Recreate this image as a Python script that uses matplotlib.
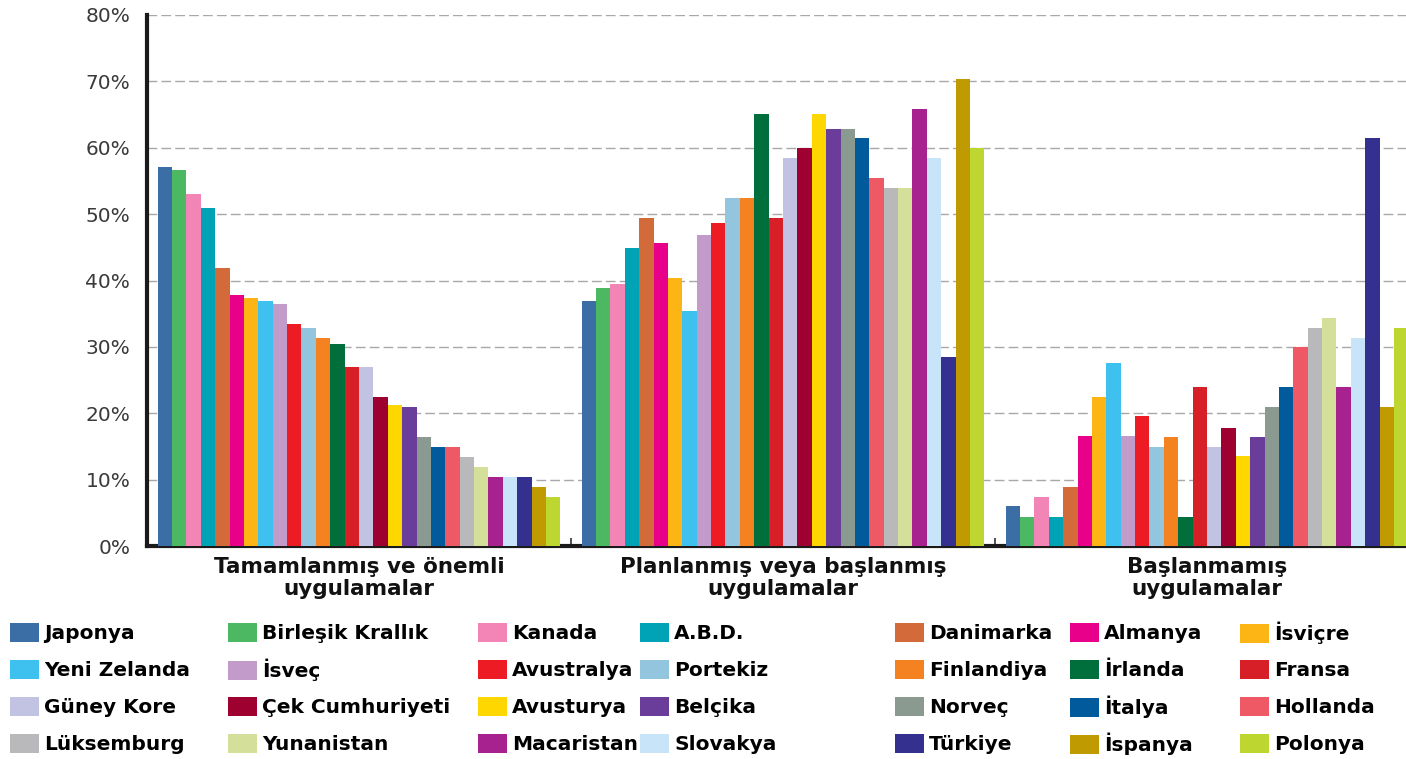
import numpy as np
import matplotlib
matplotlib.use('Agg')
import matplotlib.pyplot as plt
from matplotlib.patches import Patch

# ülkeler (çubuk sırası)
countries = ['Japonya', 'Birleşik Krallık', 'Kanada', 'A.B.D.', 'Danimarka', 'Almanya', 'İsviçre',
             'Yeni Zelanda', 'İsveç', 'Avustralya', 'Portekiz', 'Finlandiya', 'İrlanda', 'Fransa',
             'Güney Kore', 'Çek Cumhuriyeti', 'Avusturya', 'Belçika', 'Norveç', 'İtalya', 'Hollanda',
             'Lüksemburg', 'Yunanistan', 'Macaristan', 'Slovakya', 'Türkiye', 'İspanya', 'Polonya']

colors = ['#3b6ea5', '#4cb862', '#f285b5', '#00a3b5', '#d26a3a', '#e8008a', '#fdb515',
          '#3ec1ee', '#c39bcb', '#ed1c24', '#94c5de', '#f58220', '#006f3c', '#d71f27',
          '#c2c3e2', '#9e0030', '#ffd700', '#6a3d9a', '#8a9a90', '#005a9c', '#ef5966',
          '#b9b9bb', '#d4df9a', '#a8228f', '#c8e4f8', '#33308f', '#bf9a00', '#bed630']

groups = ['Tamamlanmış ve önemli\nuygulamalar',
          'Planlanmış veya başlanmış\nuygulamalar',
          'Başlanmamış\nuygulamalar']

tamamlanmis = [57.1, 56.6, 53.1, 50.9, 41.9, 37.8, 37.4, 36.9, 36.4, 33.4, 32.9, 31.4, 30.4, 26.9,
               26.9, 22.4, 21.2, 20.9, 16.4, 14.9, 14.9, 13.4, 11.9, 10.4, 10.4, 10.4, 8.9, 7.4]
planlanmis = [36.9, 38.9, 39.4, 44.9, 49.4, 45.6, 40.4, 35.4, 46.9, 48.6, 52.4, 52.4, 65.1, 49.4,
              58.4, 59.9, 65.1, 62.9, 62.9, 61.5, 55.4, 53.9, 53.9, 65.9, 58.4, 28.4, 70.4, 59.9]
baslanmamis = [6.1, 4.4, 7.4, 4.4, 8.9, 16.6, 22.4, 27.6, 16.6, 19.6, 14.9, 16.4, 4.4, 23.9,
               14.9, 17.8, 13.6, 16.4, 20.9, 23.9, 30.0, 32.9, 34.4, 23.9, 31.4, 61.4, 20.9, 32.9]

values = np.array([tamamlanmis, planlanmis, baslanmamis])

W, H = 1406, 759
fig = plt.figure(figsize=(W / 100, H / 100), dpi=100)
# eksen sağa taşıyor, son grup resmin kenarında kesiliyor
ax = fig.add_axes([147 / W, 213 / H, 1272 / W, 531 / H])

n = len(countries)
margin = 0.025
w = (1 - 2 * margin) / n
for i in range(n):
    x = np.arange(3) + margin + w * i
    ax.bar(x, values[:, i], width=w, align='edge', color=colors[i], linewidth=0, zorder=3)

ax.set_xlim(0, 3)
ax.set_ylim(0, 80)
ax.set_yticks(np.arange(0, 81, 10))
ax.set_yticklabels(['{}%'.format(v) for v in range(0, 81, 10)],
                   fontsize=14.5, color='#3a3a3a', family='DejaVu Sans')
ax.yaxis.grid(True, color='#a8a8a8', linestyle=(0, (7, 3)), linewidth=1, zorder=0)
ax.tick_params(axis='y', length=0, pad=12)

ax.set_xticks([1, 2])
ax.set_xticklabels([])
ax.tick_params(axis='x', length=6, direction='in', color='#333333', width=1.2)

for g, name in enumerate(groups):
    ax.text(g + 0.5, -1.6, name, ha='center', va='top', fontsize=15.5,
            family='DejaVu Sans', fontweight='bold', color='#111111', linespacing=1.15)

for s in ['top', 'right']:
    ax.spines[s].set_visible(False)
ax.spines['left'].set_linewidth(3)
ax.spines['bottom'].set_linewidth(3)
ax.spines['left'].set_color('#1a1a1a')
ax.spines['bottom'].set_color('#1a1a1a')

# lejant: 7 sütun x 4 satır, her giriş ayrı yerleştiriliyor
col_x = [10, 228, 478, 640, 895, 1070, 1240]
row_y = [633, 670, 707, 744]
for c in range(7):
    for r in range(4):
        k = c + 7 * r
        fig.legend([Patch(facecolor=colors[k], edgecolor='none')], [countries[k]],
                   loc='center left', bbox_to_anchor=(col_x[c] / W, 1 - row_y[r] / H),
                   frameon=False, handlelength=1.45, handleheight=1.1, handletextpad=0.25,
                   borderpad=0, borderaxespad=0,
                   prop={'family': 'DejaVu Sans', 'weight': 'bold', 'size': 14.5})

fig.savefig('out.png', dpi=100)
